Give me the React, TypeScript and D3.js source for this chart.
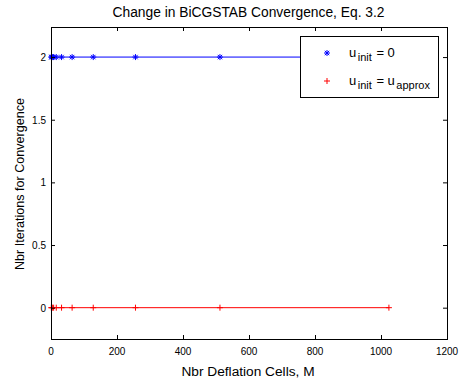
import React from "react";
import * as d3 from "d3";

const cellsBlue = [1, 2, 4, 8, 16, 32, 64, 128, 256, 512, 1024];
const itersBlue = [2, 2, 2, 2, 2, 2, 2, 2, 2, 2, 2];
const cellsRed = [1, 2, 4, 8, 16, 32, 64, 128, 256, 512, 1024];
const itersRed = [0, 0, 0, 0, 0, 0, 0, 0, 0, 0, 0];
const xTicks = [0, 200, 400, 600, 800, 1000, 1200];
const yTicks = [0, 0.5, 1, 1.5, 2];

const W = 459, H = 383;
const L = 51, R = 447, T = 27, B = 339;
const FONT = "'Liberation Sans', Arial, Helvetica, sans-serif";

export default function App() {
  const x = d3.scaleLinear().domain([0, 1200]).range([L, R]);
  const y = d3.scaleLinear().domain([-0.25, 2.24]).range([B, T]);
  const line = d3.line<[number, number]>().x(d => x(d[0])).y(d => y(d[1]));
  const blue = cellsBlue.map((c, i) => [c, itersBlue[i]] as [number, number]);
  const red = cellsRed.map((c, i) => [c, itersRed[i]] as [number, number]);
  const star = (cx: number, cy: number, k: string, col: string) => {
    const s = 3, d = 2.2;
    return (
      <g key={k} stroke={col} strokeWidth={1}>
        <line x1={cx - s} y1={cy} x2={cx + s} y2={cy} />
        <line x1={cx} y1={cy - s} x2={cx} y2={cy + s} />
        <line x1={cx - d} y1={cy - d} x2={cx + d} y2={cy + d} />
        <line x1={cx - d} y1={cy + d} x2={cx + d} y2={cy - d} />
      </g>
    );
  };
  const plus = (cx: number, cy: number, k: string, col: string) => {
    const s = 3;
    return (
      <g key={k} stroke={col} strokeWidth={1}>
        <line x1={cx - s} y1={cy} x2={cx + s} y2={cy} />
        <line x1={cx} y1={cy - s} x2={cx} y2={cy + s} />
      </g>
    );
  };
  return (
    <svg width={W} height={H} style={{ position: "absolute", left: 0, top: 0, background: "#fff" }} fontFamily={FONT}>
      <rect x={0} y={0} width={W} height={H} fill="#fff" />
      <rect x={L} y={T} width={R - L} height={B - T} fill="#fff" />
      <path d={line(blue) || ""} fill="none" stroke="#0000ff" strokeWidth={1} />
      {blue.map((d, i) => star(x(d[0]), y(d[1]), "b" + i, "#0000ff"))}
      <path d={line(red) || ""} fill="none" stroke="#ff0000" strokeWidth={1} />
      {red.map((d, i) => plus(x(d[0]), y(d[1]), "r" + i, "#ff0000"))}
      <rect x={L + 0.5} y={T + 0.5} width={R - L} height={B - T} fill="none" stroke="#000" strokeWidth={1} />
      {xTicks.map(t => (
        <g key={"x" + t}>
          <line x1={x(t) + 0.5} x2={x(t) + 0.5} y1={B} y2={B - 4} stroke="#000" />
          <line x1={x(t) + 0.5} x2={x(t) + 0.5} y1={T} y2={T + 4} stroke="#000" />
          <text x={x(t)} y={355} fontSize={10} textAnchor="middle">{t}</text>
        </g>
      ))}
      {yTicks.map(t => (
        <g key={"y" + t}>
          <line x1={L} x2={L + 4} y1={y(t) + 0.5} y2={y(t) + 0.5} stroke="#000" />
          <line x1={R} x2={R - 4} y1={y(t) + 0.5} y2={y(t) + 0.5} stroke="#000" />
          <text x={L - 5} y={y(t) + 4} fontSize={10} textAnchor="end">{t}</text>
        </g>
      ))}
      <text x={(L + R) / 2 - 0.5} y={17} fontSize={13.8} textAnchor="middle">Change in BiCGSTAB Convergence, Eq. 3.2</text>
      <text x={(L + R) / 2 - 1} y={376} fontSize={13.7} textAnchor="middle">Nbr Deflation Cells, M</text>
      <text transform={`translate(24,184) rotate(-90)`} fontSize={12.6} textAnchor="middle">Nbr Iterations for Convergence</text>
      <rect x={300.5} y={36.5} width={138} height={61} fill="#fff" stroke="#000" strokeWidth={1} />
      {star(327, 53, "ls", "#0000ff")}
      {plus(327, 81, "lp", "#ff0000")}
      <text x={349} y={57} fontSize={13}>
        u<tspan fontSize={11} dy={4} dx={1.5}>init</tspan><tspan dy={-4} dx={1}> = 0</tspan>
      </text>
      <text x={349} y={85} fontSize={13}>
        u<tspan fontSize={11} dy={4} dx={1.5}>init</tspan><tspan dy={-4} dx={1}> = u</tspan><tspan fontSize={11} dy={4} dx={1.5}>approx</tspan>
      </text>
    </svg>
  );
}
